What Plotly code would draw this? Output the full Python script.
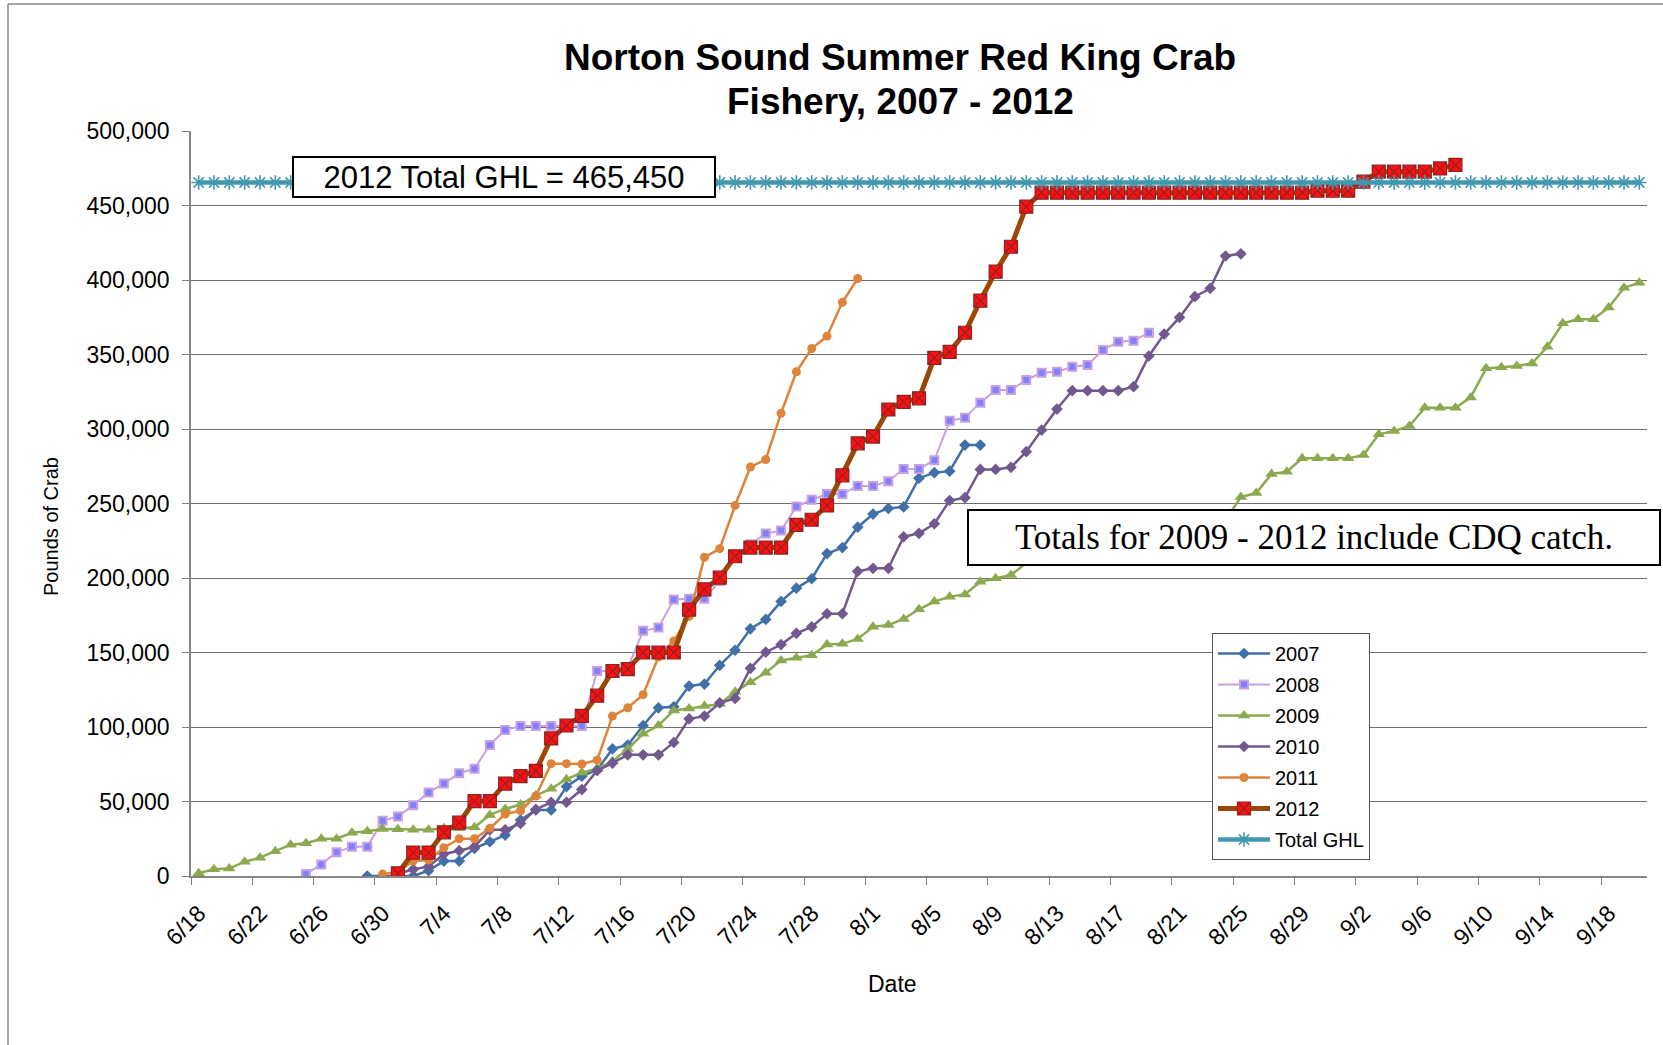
import plotly.graph_objects as go
import pandas as pd

YEAR = 2012  # all seasons overlaid on a common month/day axis

tick_labels = ["6/18", "6/22", "6/26", "6/30", "7/4", "7/8", "7/12", "7/16", "7/20",
               "7/24", "7/28", "8/1", "8/5", "8/9", "8/13", "8/17", "8/21", "8/25",
               "8/29", "9/2", "9/6", "9/10", "9/14", "9/18"]
first_day = "6/18"
last_day = "9/20"

start_2007 = "6/29"
y2007 = [0, 0, 0, 0, 3600, 10000, 10000, 18600, 23000, 27500, 37600, 44300, 44300,
         60000, 67000, 71200, 85300, 87900, 101000, 112900, 113600, 127500, 128800,
         141400, 151500, 165900, 172200, 184300, 193200, 199500, 216400, 220400,
         234100, 242900, 246700, 247700, 267000, 270700, 271700, 289200, 289200]

start_2008 = "6/25"
y2008 = [1300, 7800, 15900, 19700, 19700, 37000, 40000, 47400, 56000, 62000, 69000,
         72000, 88000, 98000, 100700, 100700, 100700, 100700, 100700,
         137600, 137600, 140000, 164600, 166700, 185600, 186000, 186000, 198000, 214000,
         222700, 229800, 231800, 248000, 252500, 256300, 256300, 261800, 261800, 265000,
         273200, 273200, 279100, 305500, 307600, 317700, 326200, 326200, 332900, 337800,
         338500, 341800, 342900, 353000, 358600, 359300, 364600]

start_2009 = "6/18"
y2009 = [1800, 4500, 5000, 9600, 12300, 16600, 21000, 22000, 25000, 25000,
         29000, 30000, 31500, 31300, 31000, 31000, 32000, 32000, 32700, 41000,
         45000, 48000, 54000, 58600, 65000, 69400, 72000, 77000, 85300, 95400,
         101000, 111100, 112400, 114100, 115400, 123700, 130000, 136400, 144700, 146500,
         148200, 155300, 155800, 159100, 167200, 168400, 172500, 179000, 184200, 187500,
         189000, 197500, 199800, 202000, 210000, 212000, 215000, 218000, 220000, 223000,
         226000, 228000, 230000, 232000, 234000, 236000, 237000, 239000, 254300, 257000,
         269800, 271300, 280300, 280300, 280300, 280300, 282500, 296400, 298600, 302000,
         314300, 314300, 314300, 321200, 340700, 341400, 342300, 344000, 355200, 370900,
         373600, 373600, 381600, 394800, 398200]

start_2010 = "7/1"
y2010 = [1500, 4500, 6300, 14800, 17000, 19700, 31000, 31000, 35300, 44700,
         49500, 49500, 58000, 70800, 75800, 81300, 81300, 81300, 89600, 105500,
         107300, 116200, 119200, 139400, 150200, 155300, 162900, 167200, 176000, 176000,
         204500, 206500, 206500, 227700, 230000, 236400, 252000, 253900, 272900, 272900,
         274300, 284800, 299300, 313400, 325700, 325700, 325700, 325700, 328400, 349000,
         363700, 374900, 388800, 394400, 416100, 417600]

start_2011 = "6/30"
y2011 = [1300, 2500, 10000, 10700, 19000, 25000, 25000, 32000, 41600, 43800,
         53700, 75400, 75400, 75200, 77800, 107300, 112900, 121700, 147000, 157800,
         174200, 213900, 219700, 248700, 274500, 279500, 310600, 338400, 354000, 362300,
         385000, 401000]

start_2012 = "7/1"
y2012 = [1800, 15700, 15700, 29300, 35800, 50300, 50300, 62000, 67000, 70500,
         92300, 101000, 107400, 121000, 137600, 138900, 150000, 150000, 150000, 178800,
         192400, 200200, 214600, 220400, 220400, 220400, 235600, 239100, 248700, 268900,
         290400, 294900, 313100, 318200, 320600, 347800, 351800, 364600, 386100, 405600,
         422300, 449200, 458600, 458600, 458600, 458600, 458600, 458600, 458600, 458600,
         458600, 458600, 458600, 458600, 458600, 458600, 458600, 458600, 458600, 458600,
         459900, 459900, 459900, 466000, 472700, 472700, 472700, 472700, 474900, 477200]

ghl_2012 = 465450


def day(md):
    m, d = md.split("/")
    return pd.Timestamp(YEAR, int(m), int(d))


def days_from(md, n):
    return pd.date_range(day(md), periods=n, freq="D")


HALF = pd.Timedelta(hours=12)
ghl_dates = pd.date_range(day(first_day), day(last_day), freq="D")

FONT = "Liberation Sans, Arial, sans-serif"
fig = go.Figure()

series = [
    ("2007", start_2007, y2007, dict(color="#4170A8", width=2.5),
     dict(symbol="diamond", size=9, color="#4170A8")),
    ("2008", start_2008, y2008, dict(color="#C9A0DC", width=2),
     dict(symbol="square", size=8, color="#7F7FFF", line=dict(color="#C9A0DC", width=2))),
    ("2009", start_2009, y2009, dict(color="#8CA94F", width=2.5),
     dict(symbol="triangle-up", size=11, color="#8CA94F")),
    ("2010", start_2010, y2010, dict(color="#71588F", width=2.5),
     dict(symbol="diamond", size=9, color="#71588F")),
    ("2011", start_2011, y2011, dict(color="#DE843A", width=2.5),
     dict(symbol="circle", size=9, color="#DE843A")),
    ("2012", start_2012, y2012, dict(color="#9B4705", width=5),
     dict(symbol="square-x", size=13, color="#FF1010", line=dict(color="#8B2323", width=1.2))),
]

for name, start, vals, line, marker in series:
    fig.add_trace(go.Scatter(
        x=days_from(start, len(vals)), y=vals, name=name, mode="lines+markers",
        line=line, marker=marker, legendgroup=name))

fig.add_trace(go.Scatter(
    x=ghl_dates, y=[ghl_2012] * len(ghl_dates), name="Total GHL", mode="lines+markers",
    line=dict(color="#4198AF", width=4.5),
    marker=dict(symbol="asterisk-open", size=12, line=dict(color="#4198AF", width=1.6)),
    legendgroup="ghl"))

L, R, T, B = 191, 1647, 131, 876
W, H = 1663, 1045


def px(x):
    return (x - L) / (R - L)


def py(y):
    return (B - y) / (B - T)


title_font = dict(size=37, family=FONT, color="black")

fig.update_layout(
    width=W, height=H,
    margin=dict(l=L, r=W - R, t=T, b=H - B),
    paper_bgcolor="white", plot_bgcolor="white",
    font=dict(family=FONT, color="black"),
    showlegend=True,
    legend=dict(x=px(1212), y=py(633), xanchor="left", yanchor="top",
                bgcolor="white", bordercolor="#555555", borderwidth=1,
                font=dict(size=20, family=FONT), tracegroupgap=2, itemwidth=52),
    xaxis=dict(
        type="date",
        range=[day(first_day) - HALF, day(last_day) + HALF],
        tickmode="array",
        tickvals=[day(t) - HALF for t in tick_labels],
        ticktext=tick_labels,
        tickangle=-45,
        tickfont=dict(size=23, family=FONT),
        ticklabelshift=8, ticklabelstandoff=6,
        ticks="outside", ticklen=7, tickcolor="#7F7F7F",
        showline=True, linecolor="#868686", linewidth=1.5,
        showgrid=False, zeroline=False,
    ),
    yaxis=dict(
        range=[0, 500000], tickvals=[0, 50000, 100000, 150000, 200000, 250000,
                                     300000, 350000, 400000, 450000, 500000],
        tickformat=",d",
        tickfont=dict(size=23, family=FONT),
        ticks="outside", ticklen=7, tickcolor="#7F7F7F",
        ticklabelstandoff=8,
        showline=True, linecolor="#868686", linewidth=1.5,
        showgrid=True, gridcolor="#6F6F6F", gridwidth=1,
        zeroline=False,
    ),
    annotations=[
        dict(text="<b>Norton Sound Summer Red King Crab</b>", xref="paper", yref="paper",
             x=px(900), y=py(57), xanchor="center", yanchor="middle",
             showarrow=False, font=title_font),
        dict(text="<b>Fishery, 2007 - 2012</b>", xref="paper", yref="paper",
             x=px(900), y=py(101), xanchor="center", yanchor="middle",
             showarrow=False, font=title_font),
        dict(text="Pounds of Crab", xref="paper", yref="paper", x=px(51), y=py(527),
             xanchor="center", yanchor="middle",
             textangle=-90, showarrow=False, font=dict(size=20, family=FONT)),
        dict(text="Date", xref="paper", yref="paper", x=px(892), y=py(984),
             xanchor="center", yanchor="middle",
             showarrow=False, font=dict(size=23, family=FONT)),
        dict(text="2012 Total GHL = 465,450", xref="paper", yref="paper",
             x=px(292), y=py(156), xanchor="left", yanchor="top",
             width=420, height=38, showarrow=False, bgcolor="white",
             bordercolor="black", borderwidth=2, borderpad=0,
             font=dict(size=31, family=FONT)),
        dict(text="Totals for 2009 - 2012 include CDQ catch.", xref="paper", yref="paper",
             x=px(967), y=py(509), xanchor="left", yanchor="top",
             width=690, height=53, showarrow=False, bgcolor="white",
             bordercolor="black", borderwidth=2, borderpad=0,
             font=dict(size=35, family="Liberation Serif, Times New Roman, serif")),
    ],
    shapes=[
        dict(type="line", xref="paper", yref="paper", x0=px(8), x1=px(8),
             y0=py(4), y1=py(1045), line=dict(color="#8A8A8A", width=1.5)),
        dict(type="line", xref="paper", yref="paper", x0=px(8), x1=px(1663),
             y0=py(4), y1=py(4), line=dict(color="#8A8A8A", width=1.5)),
    ],
)

fig.write_html("out.html", config={"displayModeBar": False},
               post_script="document.body.style.margin='0px';")
